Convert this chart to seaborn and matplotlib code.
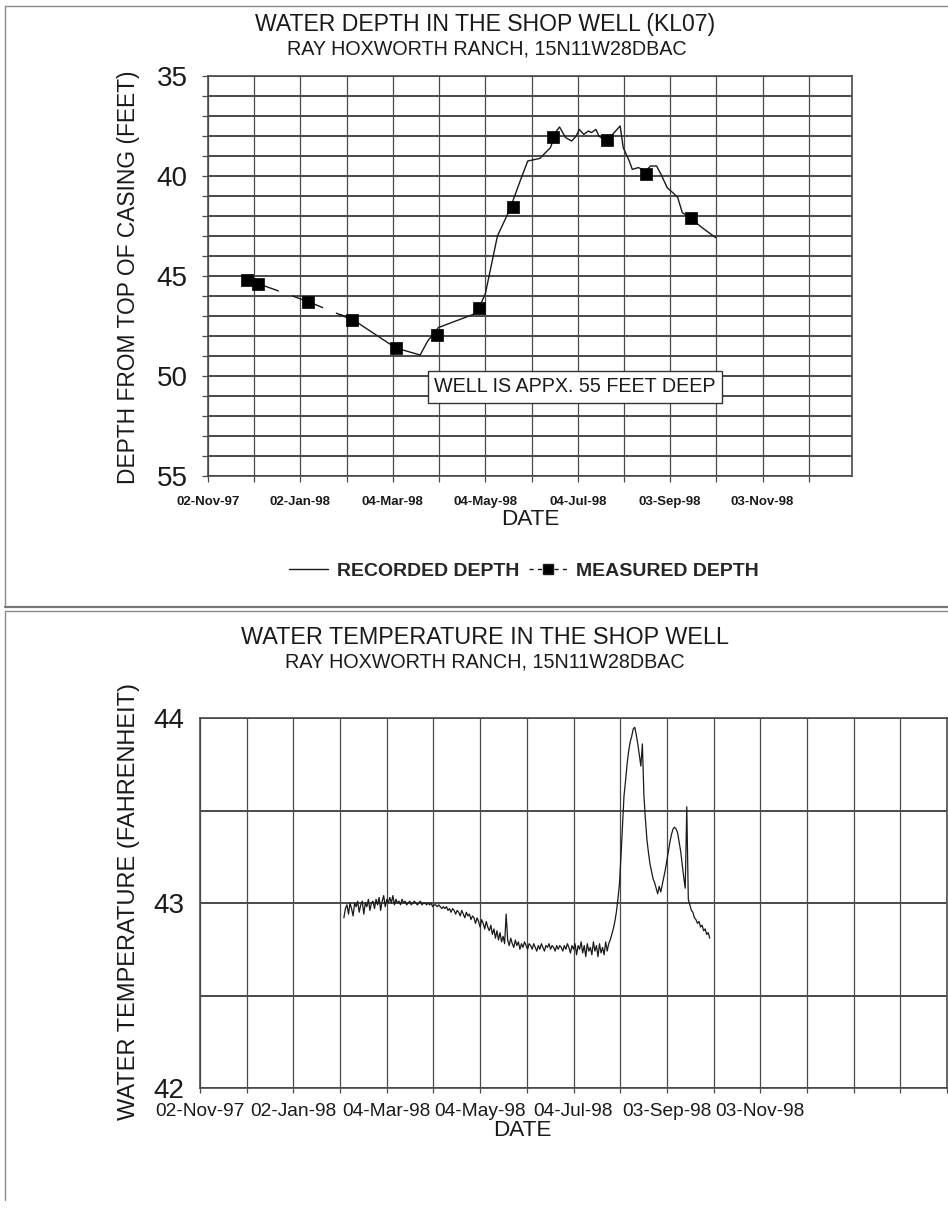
import numpy as np
import pandas as pd
import matplotlib
matplotlib.use("Agg")
import matplotlib.pyplot as plt
import matplotlib.dates as mdates
from matplotlib.lines import Line2D
from matplotlib.ticker import FixedLocator, NullFormatter
import seaborn as sns

# ---------------- data ----------------
x_tick_labels = ["02-Nov-97", "02-Jan-98", "04-Mar-98", "04-May-98",
                 "04-Jul-98", "03-Sep-98", "03-Nov-98"]

depth_y_ticks = [35, 40, 45, 50, 55]
temp_y_ticks = [42, 43, 44]

recorded_dates = ["1998-01-28", "1998-02-05", "1998-03-06", "1998-03-22", "1998-03-27",
                  "1998-04-03", "1998-04-26", "1998-04-30", "1998-05-04", "1998-05-12",
                  "1998-05-20", "1998-05-27", "1998-06-01", "1998-06-09", "1998-06-16",
                  "1998-06-20", "1998-06-22", "1998-06-26", "1998-06-30", "1998-07-03",
                  "1998-07-05", "1998-07-08", "1998-07-11", "1998-07-13", "1998-07-16",
                  "1998-07-18", "1998-07-21", "1998-07-23", "1998-07-26", "1998-07-29",
                  "1998-08-01", "1998-08-03", "1998-08-07", "1998-08-09", "1998-08-13",
                  "1998-08-18", "1998-08-21", "1998-08-25", "1998-08-28", "1998-09-01",
                  "1998-09-06", "1998-09-08", "1998-09-11", "1998-09-16", "1998-09-24",
                  "1998-10-03"]
recorded_depth = [46.92, 47.15, 48.60, 48.95, 48.25,
                  47.58, 46.92, 46.55, 45.90, 43.00,
                  41.70, 40.25, 39.25, 39.12, 38.58,
                  37.75, 37.55, 38.08, 38.25, 38.00,
                  37.67, 37.92, 37.75, 37.83, 37.67,
                  38.00, 38.17, 38.42, 38.00, 37.75,
                  37.50, 38.58, 39.25, 39.67, 39.58,
                  39.75, 39.50, 39.50, 39.92, 40.58,
                  40.92, 41.08, 41.83, 42.08, 42.58,
                  43.08]

measured_dates = ["1997-11-28", "1997-12-05", "1998-01-07", "1998-02-05", "1998-03-06",
                  "1998-04-02", "1998-04-30", "1998-05-22", "1998-06-18", "1998-07-23",
                  "1998-08-18", "1998-09-17"]
measured_depth = [45.20, 45.38, 46.28, 47.18, 48.62,
                  47.95, 46.58, 41.55, 38.05, 38.22,
                  39.88, 42.08]

# daily logger readings starting 1998-02-04
temp_start = "1998-02-04"
temp_values = [
    # Feb 4 - Mar 5
    42.92, 42.97, 42.99, 42.94, 43.00, 42.97, 42.93, 43.00, 42.98, 43.01,
    42.95, 42.99, 43.01, 42.94, 43.00, 42.98, 43.02, 42.96, 43.00, 43.01,
    42.97, 43.02, 42.99, 43.03, 42.96, 43.01, 43.04, 42.98, 43.02, 43.00,
    # Mar 6 - Apr 10
    43.03, 43.00, 43.04, 42.99, 43.02, 43.00, 43.01, 42.99, 43.02, 43.00,
    43.01, 42.99, 43.00, 43.01, 42.99, 43.00, 43.01, 43.00, 42.99, 43.00,
    43.01, 42.99, 43.00, 43.00, 42.99, 43.00, 42.99, 43.00, 42.98, 42.99,
    42.99, 42.98, 42.99, 42.98, 42.97, 42.98,
    # Apr 11 - May 10
    42.97, 42.98, 42.96, 42.97, 42.95, 42.97, 42.96, 42.94, 42.96, 42.95,
    42.93, 42.96, 42.94, 42.92, 42.95, 42.93, 42.94, 42.91, 42.93, 42.92,
    42.89, 42.92, 42.90, 42.87, 42.91, 42.89, 42.86, 42.90, 42.87, 42.85,
    # May 11 - Jun 5
    42.88, 42.83, 42.86, 42.81, 42.85, 42.80, 42.84, 42.79, 42.82, 42.78,
    42.94, 42.80, 42.77, 42.81, 42.78, 42.76, 42.80, 42.77, 42.79, 42.75,
    42.78, 42.76, 42.79, 42.77, 42.75, 42.78,
    # Jun 6 - Jul 27
    42.77, 42.75, 42.78, 42.76, 42.74, 42.77, 42.75, 42.78, 42.76, 42.74,
    42.77, 42.76, 42.78, 42.75, 42.77, 42.76, 42.74, 42.77, 42.75, 42.77,
    42.76, 42.74, 42.77, 42.75, 42.78, 42.76, 42.73, 42.77, 42.75, 42.78,
    42.72, 42.77, 42.75, 42.79, 42.73, 42.77, 42.71, 42.78, 42.74, 42.76,
    42.72, 42.79, 42.74, 42.77, 42.71, 42.78, 42.73, 42.76, 42.72, 42.79,
    42.74, 42.78,
    # Jul 28 - Oct 1
    42.80, 42.83, 42.86, 42.90, 42.95, 43.02, 43.10, 43.25, 43.42, 43.58,
    43.66, 43.75, 43.82, 43.87, 43.90, 43.94, 43.95, 43.91, 43.86, 43.80,
    43.74, 43.86, 43.58, 43.45, 43.34, 43.27, 43.21, 43.17, 43.13, 43.11,
    43.08, 43.05, 43.09, 43.06, 43.10, 43.14, 43.18, 43.23, 43.28, 43.33,
    43.37, 43.40, 43.41, 43.40, 43.38, 43.33, 43.28, 43.21, 43.14, 43.08,
    43.52, 43.02, 42.99, 42.96, 42.95, 42.92, 42.91, 42.89, 42.90, 42.87,
    42.88, 42.85, 42.86, 42.83, 42.84, 42.81]

# ---------------- style ----------------
sns.set_theme(style="white")
plt.rcParams["font.family"] = ["Liberation Sans", "DejaVu Sans"]

W, H = 948, 1218
fig = plt.figure(figsize=(W / 100, H / 100), dpi=100)
fig.patch.set_facecolor("white")


def fx(px):
    return px / W


def fy(py):
    return 1 - py / H


GRID = "#4a4a4a"
INK = "#1a1a1a"

ax1 = fig.add_axes([fx(208), fy(476), (852 - 208) / W, (476 - 76) / H])
ax2 = fig.add_axes([fx(200), fy(1088), (947 - 200) / W, (1088 - 718) / H])

axis_start = pd.Timestamp("1997-11-02")
major_dates = pd.to_datetime(x_tick_labels, format="%d-%b-%y")
major_nums = mdates.date2num(major_dates)
start_num = mdates.date2num(axis_start)

# ---------------- top chart: depth ----------------
rec = pd.DataFrame({"date": pd.to_datetime(recorded_dates), "depth": recorded_depth})
meas = pd.DataFrame({"date": pd.to_datetime(measured_dates), "depth": measured_depth})

# dashed connector of the measured series is only visible before the logger record
n_before = int((meas["date"] < rec["date"].min()).sum())
meas_line = meas.iloc[:n_before + 1]

sns.lineplot(data=meas_line, x="date", y="depth", ax=ax1, color=INK, lw=1.0,
             estimator=None, sort=False, zorder=3)
ax1.lines[-1].set_dashes([24, 10])
sns.lineplot(data=rec, x="date", y="depth", ax=ax1, color=INK, lw=1.0,
             estimator=None, sort=False, zorder=4)
sns.scatterplot(data=meas, x="date", y="depth", ax=ax1, marker="s", s=70,
                color="black", edgecolor="black", linewidth=0.5, zorder=5)

ax1.set_xlim(start_num, start_num + 425)
ax1.set_ylim(55, 35)
ax1.set_xticks(major_nums)
ax1.set_xticklabels(x_tick_labels)
ax1.xaxis.set_minor_locator(FixedLocator(start_num + np.arange(0, 15) * 30.5))
ax1.xaxis.set_minor_formatter(NullFormatter())
ax1.set_yticks(depth_y_ticks)
ax1.set_yticklabels([str(v) for v in depth_y_ticks])
ax1.yaxis.set_minor_locator(FixedLocator(np.arange(35, 56, 1)))
ax1.set_axisbelow(True)
ax1.xaxis.grid(True, which="both", color=GRID, lw=0.9)
ax1.yaxis.grid(True, which="both", color=GRID, lw=1.4)
for s in ax1.spines.values():
    s.set_visible(True)
    s.set_color(GRID)
    s.set_linewidth(1.2)
ax1.tick_params(axis="both", which="both", direction="out", length=4.5,
                width=0.9, color=GRID, bottom=True, left=True)
ax1.tick_params(axis="x", which="major", labelsize=9.5, pad=10, labelcolor=INK)
ax1.tick_params(axis="y", which="major", labelsize=20, pad=10, labelcolor=INK)
for lab in ax1.get_xticklabels():
    lab.set_fontweight("bold")
ax1.set_xlabel("")
ax1.set_ylabel("")

ax1.text(0.351, 0.2225, "WELL IS APPX. 55 FEET DEEP", transform=ax1.transAxes,
         fontsize=14.2, color=INK, ha="left", va="center", zorder=6,
         bbox=dict(boxstyle="square,pad=0.32", fc="white", ec="#333333", lw=1.0))

fig.text(fx(485), fy(25), "WATER DEPTH IN THE SHOP WELL (KL07)", ha="center",
         va="center", fontsize=16.6, color=INK)
fig.text(fx(487), fy(49), "RAY HOXWORTH RANCH, 15N11W28DBAC", ha="center",
         va="center", fontsize=14.2, color=INK)
fig.text(fx(129), fy(277), "DEPTH FROM TOP OF CASING (FEET)", rotation=90,
         ha="center", va="center", fontsize=16.4, color=INK)
fig.text(fx(530), fy(520), "DATE", ha="center", va="center", fontsize=16.2,
         color=INK)

handles = [Line2D([], [], color=INK, lw=1.0),
           Line2D([], [], color=INK, lw=1.0, dashes=(3, 3), marker="s",
                  markersize=7.5, markerfacecolor="black")]
fig.legend(handles, ["RECORDED DEPTH", "MEASURED DEPTH"], loc="center",
           bbox_to_anchor=(fx(524), fy(571)), ncol=2, frameon=False,
           prop=dict(weight="bold", size=14), handlelength=2.0,
           handletextpad=0.45, columnspacing=0.5, numpoints=1)

# ---------------- bottom chart: temperature ----------------
temp = pd.DataFrame({
    "date": pd.date_range(temp_start, periods=len(temp_values), freq="D"),
    "temp": temp_values})

sns.lineplot(data=temp, x="date", y="temp", ax=ax2, color=INK, lw=0.9,
             estimator=None, sort=False, zorder=4)

ax2.set_xlim(start_num, start_num + 16 * 30.5)
ax2.set_ylim(42, 44)
ax2.set_xticks(major_nums)
ax2.set_xticklabels(x_tick_labels)
ax2.xaxis.set_minor_locator(FixedLocator(start_num + np.arange(0, 17) * 30.5))
ax2.xaxis.set_minor_formatter(NullFormatter())
ax2.set_yticks(temp_y_ticks)
ax2.set_yticklabels([str(v) for v in temp_y_ticks])
ax2.yaxis.set_minor_locator(FixedLocator([42.5, 43.5]))
ax2.set_axisbelow(True)
ax2.xaxis.grid(True, which="both", color=GRID, lw=0.9)
ax2.yaxis.grid(True, which="both", color=GRID, lw=1.4)
for name, s in ax2.spines.items():
    s.set_visible(True)
    s.set_color(GRID)
    s.set_linewidth(1.2)
ax2.tick_params(axis="x", which="both", direction="out", length=3.5, width=0.9,
                color=GRID, bottom=True, labelsize=13.8, pad=7, labelcolor=INK)
ax2.tick_params(axis="y", which="both", length=0, labelsize=20, pad=11,
                labelcolor=INK, left=True)
ax2.set_xlabel("")
ax2.set_ylabel("")

fig.text(fx(485), fy(638), "WATER TEMPERATURE IN THE SHOP WELL", ha="center",
         va="center", fontsize=16.8, color=INK)
fig.text(fx(485), fy(662), "RAY HOXWORTH RANCH, 15N11W28DBAC", ha="center",
         va="center", fontsize=14.2, color=INK)
fig.text(fx(129), fy(902), "WATER TEMPERATURE (FAHRENHEIT)", rotation=90,
         ha="center", va="center", fontsize=17, color=INK)
fig.text(fx(522), fy(1130), "DATE", ha="center", va="center", fontsize=16.2,
         color=INK)

# ---------------- page frame lines (scan borders) ----------------
frame = dict(transform=fig.transFigure, color="#8a8a8a", lw=1.0)
fig.add_artist(Line2D([fx(5), fx(948)], [fy(6), fy(6)], **frame))
fig.add_artist(Line2D([fx(5), fx(5)], [fy(6), fy(607)], **frame))
fig.add_artist(Line2D([fx(5), fx(948)], [fy(607), fy(607)], transform=fig.transFigure,
                      color="#777777", lw=1.6))
fig.add_artist(Line2D([fx(5), fx(948)], [fy(611), fy(611)], **frame))
fig.add_artist(Line2D([fx(5), fx(5)], [fy(611), fy(1200)], **frame))

fig.savefig("out.png", dpi=100, facecolor="white")
